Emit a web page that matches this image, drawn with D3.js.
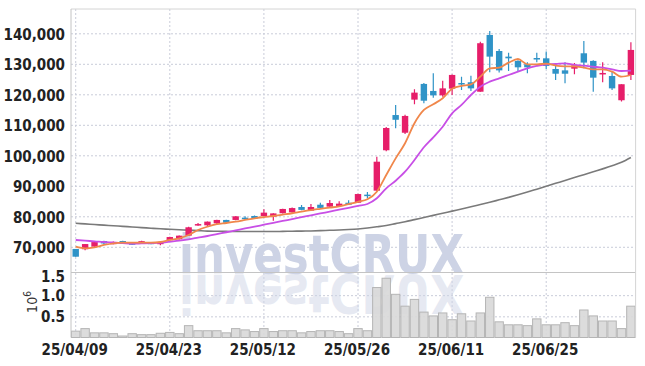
<!DOCTYPE html>
<html>
<head>
<meta charset="utf-8">
<script src="https://cdn.jsdelivr.net/npm/d3@7"></script>
<style>
  body { margin: 0; background: #fff; }
  svg text { font-family: "Liberation Sans Narrow", "DejaVu Sans Condensed", "Roboto", sans-serif; }
</style>
</head>
<body>
<svg id="chart" width="645" height="366"></svg>
<script>
// trading days (yy/mm/dd)
const dates = [
  "25/04/09","25/04/10","25/04/11","25/04/14","25/04/15","25/04/16","25/04/17","25/04/18","25/04/21","25/04/22",
  "25/04/23","25/04/24","25/04/25","25/04/28","25/04/29","25/04/30","25/05/02","25/05/07","25/05/08","25/05/09",
  "25/05/12","25/05/13","25/05/14","25/05/15","25/05/16","25/05/19","25/05/20","25/05/21","25/05/22","25/05/23",
  "25/05/26","25/05/27","25/05/28","25/05/29","25/05/30","25/06/02","25/06/04","25/06/05","25/06/09","25/06/10",
  "25/06/11","25/06/12","25/06/13","25/06/16","25/06/17","25/06/18","25/06/19","25/06/20","25/06/23","25/06/24",
  "25/06/25","25/06/26","25/06/27","25/06/30","25/07/01","25/07/02","25/07/03","25/07/04","25/07/07","25/07/08"
];
const opens = [
  69300, 69200, 70050, 71900, 70850, 71900, 71150, 71200, 71350, 70850,
  72150, 72450, 73650, 77250, 77050, 77700, 78800, 78800, 79550, 80100,
  80100, 79900, 81000, 81300, 83050, 81850, 83800, 83150, 83400, 84450,
  84450, 87100, 88400, 101650, 113200, 107400, 118250, 123400, 121100, 119650,
  121850, 123700, 123950, 120850, 139450, 134200, 132350, 130950, 129850, 131900,
  131800, 128300, 127850, 128400, 133450, 130950, 126750, 126000, 118050, 126350
];
const highs = [
  69300, 70900, 71600, 71950, 71700, 72000, 71500, 72000, 71450, 71600,
  73300, 73700, 76600, 77800, 78300, 78850, 78900, 80050, 80000, 80300,
  82300, 81000, 82450, 82900, 83700, 84000, 84400, 85350, 84900, 85300,
  87400, 88000, 99550, 109300, 116500, 113300, 121650, 123700, 126900, 124450,
  126500, 125750, 126100, 137250, 140750, 134850, 133650, 131200, 130500, 133650,
  134000, 130150, 130500, 130250, 137500, 131200, 130500, 127400, 123300, 137050
];
const lows = [
  66750, 68850, 70000, 70900, 70800, 70900, 70700, 71100, 70800, 70500,
  72100, 72400, 73600, 76900, 76600, 77200, 77600, 78700, 78900, 79100,
  80000, 78550, 80900, 81200, 82000, 81800, 82700, 83100, 83300, 83700,
  84400, 85900, 88300, 101300, 108850, 107000, 116750, 117050, 118900, 119200,
  119750, 121400, 121100, 120800, 127200, 127150, 127650, 127400, 126900, 130500,
  128300, 124700, 123600, 126550, 128550, 120850, 123950, 121400, 117600, 124700
];
const closes = [
  66750, 70900, 71550, 71100, 71550, 71000, 71000, 71850, 70850, 71550,
  73200, 73650, 76400, 77450, 78250, 78800, 77900, 80000, 79300, 79200,
  81200, 80950, 82400, 82700, 82100, 83050, 82750, 84350, 84150, 83800,
  87300, 86900, 97900, 108950, 111650, 112900, 120550, 117900, 119650, 121950,
  126350, 123400, 121950, 136750, 132350, 127850, 131800, 128850, 128850, 131700,
  129300, 126750, 126750, 129500, 130400, 125450, 127000, 121950, 123300, 134550
];
// volume, millions of shares
const volumes = [
  0.15, 0.21, 0.11, 0.11, 0.09, 0.035, 0.09, 0.067, 0.067, 0.10,
  0.12, 0.09, 0.28, 0.16, 0.16, 0.16, 0.11, 0.21, 0.18, 0.14,
  0.21, 0.14, 0.16, 0.16, 0.11, 0.14, 0.16, 0.16, 0.14, 0.09,
  0.21, 0.16, 1.18, 1.40, 1.02, 0.74, 0.90, 0.60, 0.51, 0.58,
  0.42, 0.56, 0.39, 0.58, 0.95, 0.37, 0.30, 0.30, 0.28, 0.44,
  0.30, 0.30, 0.35, 0.28, 0.65, 0.51, 0.39, 0.39, 0.21, 0.74
];
// moving averages
const ma5 = [
  70030, 69500, 69840, 70590, 71150, 71340, 71340, 71340, 71340, 71570,
  72230, 72790, 73870, 75510, 76590, 77400, 77800, 78250, 78800, 79350,
  79750, 80100, 80550, 81000, 81550, 82050, 82450, 82850, 83250, 84000,
  84750, 85570, 88070, 93540, 99000, 103940, 110500, 114860, 116730, 118700,
  121800, 122730, 123280, 125780, 128530, 128730, 130370, 131580, 129840, 129840,
  130040, 129390, 129170, 129170, 128730, 128200, 128200, 127410, 125780, 126330
];
const ma20 = [
  72230, 72000, 71800, 71570, 71400, 71200, 71020, 71100, 71200, 71340,
  71670, 72000, 72460, 73000, 73540, 74150, 74770, 75380, 76000, 76600,
  77230, 77850, 78460, 79080, 79690, 80300, 80920, 81530, 82150, 82760,
  83400, 84030, 85900, 89180, 91670, 94620, 98460, 102630, 105910, 109380,
  113770, 116500, 119770, 122500, 124140, 125250, 126330, 127410, 128530, 129290,
  129840, 129940, 130170, 129610, 129390, 129060, 128730, 128200, 127640, 127740
];
const ma60 = [
  77700, 77500, 77300, 77100, 76900, 76700, 76500, 76300, 76100, 75900,
  75750, 75600, 75450, 75300, 75150, 75100, 75050, 75000, 75000, 75000,
  75000, 75000, 75050, 75100, 75150, 75200, 75300, 75400, 75500, 75650,
  75850, 76150, 76550, 77000, 77600, 78200, 78900, 79600, 80300, 81000,
  81700, 82400, 83100, 83850, 84600, 85400, 86200, 87050, 87950, 88900,
  89850, 90800, 91750, 92700, 93650, 94600, 95550, 96550, 97700, 99300
];
const priceTicks = [70000, 80000, 90000, 100000, 110000, 120000, 130000, 140000];
const volumeTicks = [0.5, 1.0, 1.5];
const dateTickIdx = [0, 10, 20, 30, 40, 50];

const UP = "#e61e69", DOWN = "#2f93c7";

const L = 71, R = 635.6, T = 9, SPLIT = 272.5, B = 337.5;
const svg = d3.select("#chart");

const x = d3.scaleBand().domain(d3.range(dates.length)).range([L, R]).padding(0);
const cx = i => x(i) + x.bandwidth() / 2;
const y = d3.scaleLinear().domain([61570, 147970]).range([SPLIT, T]);
const yv = d3.scaleLinear().domain([0, 1.5]).range([B, 274]);

const defs = svg.append("defs");
defs.append("clipPath").attr("id", "priceClip")
  .append("rect").attr("x", L).attr("y", T).attr("width", R - L).attr("height", SPLIT - T);
defs.append("clipPath").attr("id", "volClip")
  .append("rect").attr("x", L).attr("y", SPLIT + 1).attr("width", R - L).attr("height", B - SPLIT - 1);

function gridStyle(g) {
  g.select(".domain").remove();
  g.selectAll(".tick line").attr("stroke", "#c9ccd9").attr("stroke-dasharray", "2,2");
  g.selectAll(".tick text").remove();
}

// grid
svg.append("g").attr("transform", `translate(${L},0)`)
  .call(d3.axisLeft(y).tickValues(priceTicks).tickSize(-(R - L)))
  .call(gridStyle);
svg.append("g").attr("transform", `translate(${L},0)`)
  .call(d3.axisLeft(yv).tickValues([0.5, 1.0]).tickSize(-(R - L)))
  .call(gridStyle);
svg.append("g").attr("transform", `translate(0,${T})`)
  .call(d3.axisBottom(x).tickValues(dateTickIdx).tickSize(B - T))
  .call(gridStyle);

// watermark + mirrored copy in the volume pane
const wm = svg.append("g");
wm.append("text").attr("id", "wmText").text("investCRUX")
  .attr("x", 179).attr("y", SPLIT)
  .attr("textLength", 285).attr("lengthAdjust", "spacingAndGlyphs")
  .style("font-family", "'DejaVu Sans', 'Liberation Sans', sans-serif")
  .style("font-weight", "bold").style("font-size", "54px")
  .attr("fill", "#cdd3e5");
wm.append("g").attr("clip-path", "url(#volClip)")
  .append("use").attr("href", "#wmText")
  .attr("transform", `translate(0,${2 * SPLIT + 2}) scale(1,-1)`)
  .attr("opacity", 0.5);

// volume bars
svg.append("g").selectAll("rect").data(volumes).join("rect")
  .attr("x", (d, i) => x(i) + 0.5)
  .attr("y", d => yv(d))
  .attr("width", x.bandwidth() - 1)
  .attr("height", d => B - yv(d))
  .attr("fill", "#d8d8d8").attr("fill-opacity", 0.9)
  .attr("stroke", "#b5b5b5").attr("stroke-width", 1);

// frame
svg.append("line").attr("x1", L).attr("x2", R).attr("y1", T).attr("y2", T).attr("stroke", "#d4d4d4");
svg.append("line").attr("x1", L).attr("x2", R).attr("y1", SPLIT).attr("y2", SPLIT).attr("stroke", "#c4c4c4");
svg.append("line").attr("x1", L).attr("x2", L).attr("y1", T).attr("y2", B).attr("stroke", "#c4c4c4");
svg.append("line").attr("x1", R).attr("x2", R).attr("y1", T).attr("y2", B).attr("stroke", "#d4d4d4");

// moving averages
const price = svg.append("g").attr("clip-path", "url(#priceClip)");
function drawLine(vals, color, w) {
  price.append("path").datum(vals)
    .attr("fill", "none").attr("stroke", color).attr("stroke-width", w)
    .attr("d", d3.line().x((d, i) => cx(i)).y(d => y(d)).curve(d3.curveMonotoneX));
}
drawLine(ma60, "#7a7a7a", 1.6);

// candles
const candles = price.append("g").selectAll("g").data(dates).join("g")
  .attr("fill", (d, i) => closes[i] >= opens[i] ? UP : DOWN)
  .attr("stroke", (d, i) => closes[i] >= opens[i] ? UP : DOWN);
candles.append("line")
  .attr("x1", (d, i) => cx(i)).attr("x2", (d, i) => cx(i))
  .attr("y1", (d, i) => y(highs[i])).attr("y2", (d, i) => y(lows[i]))
  .attr("stroke-width", 1.2);
candles.append("rect")
  .attr("x", (d, i) => cx(i) - 3.2)
  .attr("width", 6.4)
  .attr("y", (d, i) => y(Math.max(opens[i], closes[i])))
  .attr("height", (d, i) => Math.max(1.5, Math.abs(y(opens[i]) - y(closes[i]))))
  .attr("stroke", "none");

drawLine(ma20, "#c84fe6", 1.8);
drawLine(ma5, "#f0874b", 1.8);

// labels
const txt = "#222";
svg.append("g").selectAll("text").data(priceTicks).join("text")
  .attr("x", 65).attr("y", d => y(d) + 1).attr("dy", "0.35em")
  .attr("text-anchor", "end").attr("fill", txt)
  .style("font-size", "15px").style("font-weight", "bold")
  .text(d3.format(","));
svg.append("g").selectAll("text").data(volumeTicks).join("text")
  .attr("x", 65).attr("y", d => d === 1.5 ? yv(d) + 2.7 : yv(d) + 0.7).attr("dy", "0.35em")
  .attr("text-anchor", "end").attr("fill", txt)
  .style("font-size", "15px").style("font-weight", "bold")
  .text(d3.format(".1f"));
svg.append("g").selectAll("text").data(dateTickIdx).join("text")
  .attr("x", d => cx(d) - 1).attr("y", 355)
  .attr("text-anchor", "middle").attr("fill", txt)
  .style("font-size", "15px").style("font-weight", "bold")
  .text(d => dates[d]);

const unit = svg.append("text")
  .attr("transform", "translate(37,302) rotate(-90)")
  .attr("text-anchor", "middle").attr("fill", "#333")
  .style("font-size", "14px");
unit.append("tspan").text("10");
unit.append("tspan").attr("dy", -6).style("font-size", "10px").text("6");
</script>
</body>
</html>
